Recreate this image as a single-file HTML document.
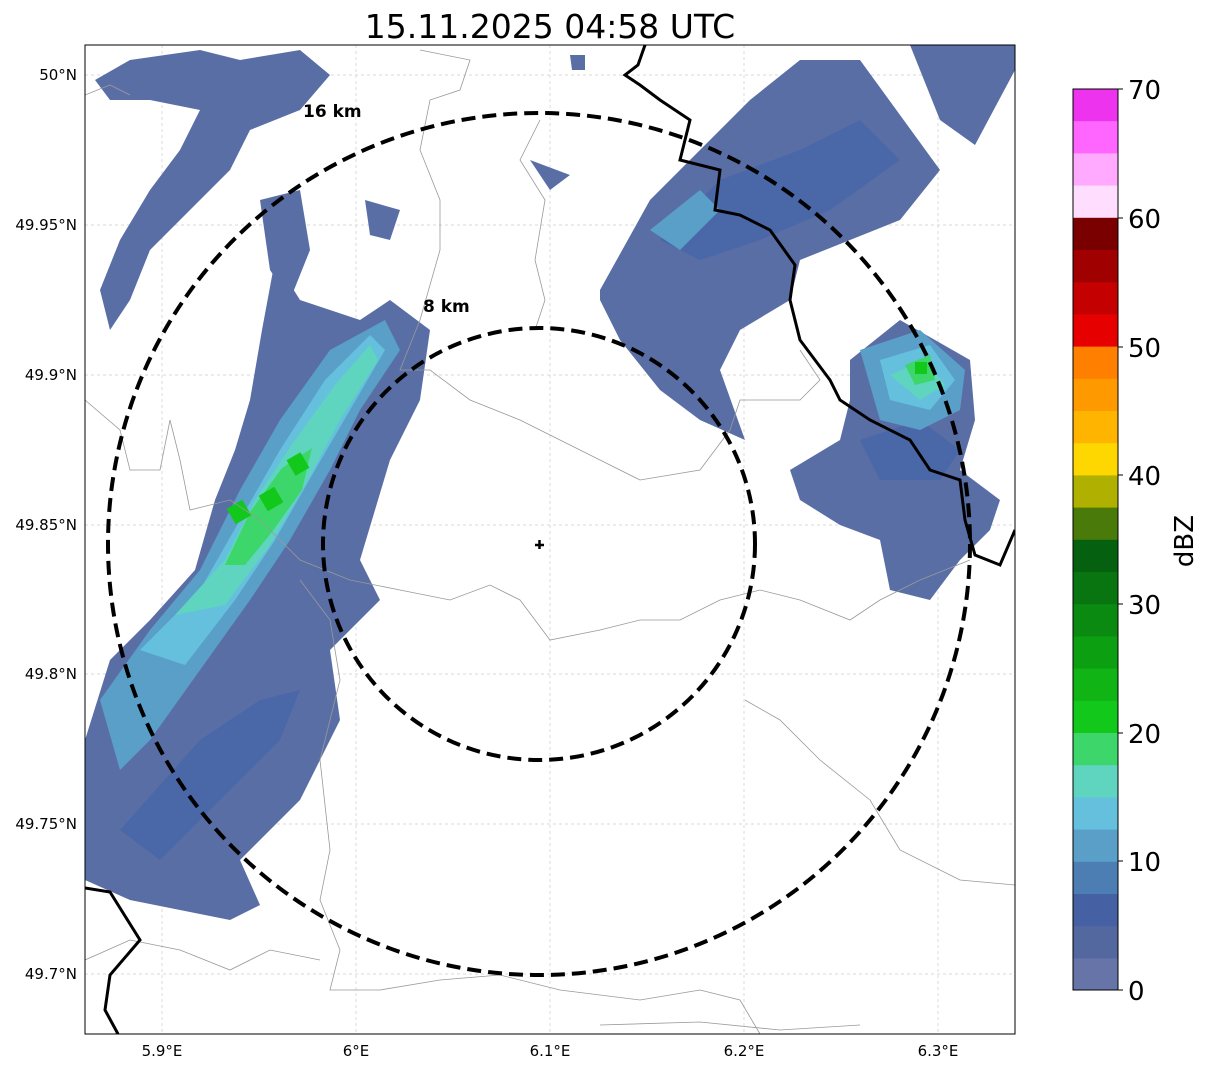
<!DOCTYPE html>
<html><head><meta charset="utf-8"><style>
body{margin:0;background:#fff;}
svg text{font-family:"DejaVu Sans","Liberation Sans",sans-serif;}
</style></head><body>
<svg width="1207" height="1069" xmlns="http://www.w3.org/2000/svg">
<rect width="1207" height="1069" fill="#fff"/>
<text x="550" y="38" font-size="33" text-anchor="middle">15.11.2025 04:58 UTC</text>
<defs><clipPath id="c"><rect x="85" y="45" width="930" height="989"/></clipPath></defs>
<g clip-path="url(#c)">
<g stroke="#ccc" stroke-width="0.7" stroke-dasharray="3 3">
<line x1="162" y1="45" x2="162" y2="1034"/><line x1="356" y1="45" x2="356" y2="1034"/><line x1="550" y1="45" x2="550" y2="1034"/><line x1="744" y1="45" x2="744" y2="1034"/><line x1="938" y1="45" x2="938" y2="1034"/>
<line x1="85" y1="75" x2="1015" y2="75"/><line x1="85" y1="225" x2="1015" y2="225"/><line x1="85" y1="375" x2="1015" y2="375"/><line x1="85" y1="525" x2="1015" y2="525"/><line x1="85" y1="674" x2="1015" y2="674"/><line x1="85" y1="824" x2="1015" y2="824"/><line x1="85" y1="974" x2="1015" y2="974"/>
</g>
<g fill="#5a6ea6">
<polygon points="85,760 85,880 130,900 180,910 230,920 260,905 240,860 300,800 340,720 330,650 380,600 360,560 390,460 420,400 430,330 390,300 360,320 300,300 275,260 262,330 250,400 235,450 215,500 195,570 150,620 110,660 85,740"/>
<polygon points="95,80 130,60 200,50 240,60 300,50 330,75 300,110 250,130 230,170 190,210 150,250 130,300 110,330 100,290 120,240 150,190 180,150 200,110 150,100 110,100"/>
<polygon points="260,200 300,190 310,250 290,300 270,270"/>
<polygon points="365,200 400,210 390,240 370,235"/>
<polygon points="530,160 570,175 550,190"/>
<polygon points="600,290 650,200 700,150 750,100 800,60 860,60 940,170 900,220 850,240 800,260 790,300 740,330 720,370 745,440 700,420 660,390 620,340 600,300"/>
<polygon points="910,45 1015,45 1015,70 975,145 940,120"/>
<polygon points="850,360 900,320 970,360 975,420 960,470 1000,500 990,530 960,560 930,600 890,590 880,540 840,525 800,500 790,470 840,440 850,400"/>
<polygon points="570,55 585,55 585,70 572,70"/>
</g>
<g fill="#4a67a8">
<polygon points="120,830 200,740 260,700 300,690 280,740 220,800 160,860"/>
<polygon points="660,240 720,180 800,150 860,120 900,160 830,210 760,240 700,260"/>
<polygon points="860,440 920,420 960,450 940,480 880,480"/>
</g>
<g fill="#5a9fc8">
<polygon points="100,700 150,630 200,570 240,490 280,420 330,350 385,320 400,350 360,410 330,470 290,540 250,600 200,670 150,740 120,770"/>
<polygon points="860,350 920,330 965,370 960,410 920,430 880,420"/>
<polygon points="650,230 700,190 720,210 680,250"/>
</g>
<g fill="#65c0dd">
<polygon points="140,650 200,590 240,520 280,450 325,380 370,335 385,350 350,410 315,470 275,540 235,600 185,665"/>
<polygon points="880,360 930,345 955,380 930,410 890,400"/>
</g>
<g fill="#5fd5c0">
<polygon points="175,615 225,560 255,500 295,440 335,385 370,345 378,360 340,420 305,485 270,545 225,605"/>
<polygon points="890,375 925,360 945,385 920,400"/>
</g>
<g fill="#3dd66a">
<polygon points="225,565 250,512 282,468 312,448 302,490 272,532 245,565"/>
<polygon points="905,365 930,355 935,380 915,385"/>
</g>
<g fill="#12c81a">
<rect x="262" y="490" width="18" height="18" transform="rotate(-30 271 499)"/>
<rect x="290" y="455" width="16" height="18" transform="rotate(-30 298 464)"/>
<rect x="230" y="503" width="18" height="18" transform="rotate(-30 239 512)"/>
<rect x="915" y="362" width="12" height="12"/>
</g>
<g fill="none" stroke="#999" stroke-width="0.8">
<path d="M85,400 L120,430 L130,470 L160,470 L170,420 L180,460 L190,510 L230,500 L260,520 L300,560 L350,580 L400,590 L450,600 L490,585 L520,600 L550,640 L600,630 L640,620 L680,620 L720,600 L760,590 L800,600 L850,620 L880,600 L920,580 L970,560"/>
<path d="M300,580 L330,620 L340,680 L320,760 L330,850 L320,900 L340,950 L330,990 L380,990 L440,980 L500,975 L560,990 L640,1000 L700,990 L740,1000 L760,1034"/>
<path d="M85,960 L130,940 L180,950 L230,970 L270,950 L320,960"/>
<path d="M420,50 L470,60 L460,90 L430,100 L420,150 L440,200 L440,250 L420,320 L400,370 L430,370 L470,400 L520,420 L560,440 L600,460 L640,480 L700,470 L730,430 L740,400 L800,400 L820,380 L800,350"/>
<path d="M85,95 L110,85 L130,95"/>
<path d="M540,120 L520,160 L545,200 L535,260 L545,300 L535,330"/>
<path d="M745,700 L780,720 L820,760 L870,800 L900,850 L960,880 L1015,885"/>
<path d="M600,1025 L700,1022 L780,1030 L860,1025"/>
</g>
<g fill="none" stroke="#000" stroke-width="3">
<path d="M645,45 L638,65 L625,75 L640,85 L660,100 L690,120 L680,160 L720,170 L715,210 L740,215 L770,230 L795,265 L790,300 L800,340 L830,380 L840,400 L870,420 L910,440 L930,470 L960,480 L965,520 L975,555 L1000,565 L1015,530"/>
<path d="M85,888 L110,892 L140,940 L110,975 L105,1010 L118,1034"/>
</g>
<g fill="none" stroke="#000" stroke-width="4" stroke-dasharray="14 7">
<circle cx="539" cy="544" r="216"/>
<circle cx="539" cy="544" r="431"/>
</g>
<path d="M535,545 h9 M539.5,540 v9" stroke="#000" stroke-width="2.5"/>
<text x="303" y="117" font-size="17" font-weight="bold">16 km</text>
<text x="423" y="312" font-size="17" font-weight="bold">8 km</text>
</g>
<rect x="85" y="45" width="930" height="989" fill="none" stroke="#000" stroke-width="1"/>
<g font-size="15" text-anchor="middle">
<text x="162" y="1056">5.9°E</text><text x="356" y="1056">6°E</text><text x="550" y="1056">6.1°E</text><text x="744" y="1056">6.2°E</text><text x="938" y="1056">6.3°E</text>
</g>
<g font-size="15" text-anchor="end">
<text x="77" y="80">50°N</text><text x="77" y="230">49.95°N</text><text x="77" y="380">49.9°N</text><text x="77" y="530">49.85°N</text><text x="77" y="679">49.8°N</text><text x="77" y="829">49.75°N</text><text x="77" y="979">49.7°N</text>
</g>
<g>
<rect x="1073" y="89.0" width="45" height="32.6" fill="#ee33ee"/>
<rect x="1073" y="121.2" width="45" height="32.6" fill="#ff66ff"/>
<rect x="1073" y="153.4" width="45" height="32.6" fill="#ffaaff"/>
<rect x="1073" y="185.6" width="45" height="32.6" fill="#ffddff"/>
<rect x="1073" y="217.8" width="45" height="32.6" fill="#7a0000"/>
<rect x="1073" y="250.0" width="45" height="32.6" fill="#a00000"/>
<rect x="1073" y="282.2" width="45" height="32.6" fill="#c40000"/>
<rect x="1073" y="314.4" width="45" height="32.6" fill="#e60000"/>
<rect x="1073" y="346.6" width="45" height="32.6" fill="#ff7f00"/>
<rect x="1073" y="378.8" width="45" height="32.6" fill="#ff9900"/>
<rect x="1073" y="411.0" width="45" height="32.6" fill="#ffb400"/>
<rect x="1073" y="443.2" width="45" height="32.6" fill="#ffd700"/>
<rect x="1073" y="475.4" width="45" height="32.6" fill="#b0b000"/>
<rect x="1073" y="507.6" width="45" height="32.6" fill="#4a7a0a"/>
<rect x="1073" y="539.8" width="45" height="32.6" fill="#056010"/>
<rect x="1073" y="572.0" width="45" height="32.6" fill="#097510"/>
<rect x="1073" y="604.2" width="45" height="32.6" fill="#0a8a10"/>
<rect x="1073" y="636.4" width="45" height="32.6" fill="#0d9f12"/>
<rect x="1073" y="668.6" width="45" height="32.6" fill="#10b515"/>
<rect x="1073" y="700.8" width="45" height="32.6" fill="#12c81a"/>
<rect x="1073" y="733.0" width="45" height="32.6" fill="#3dd66a"/>
<rect x="1073" y="765.2" width="45" height="32.6" fill="#5fd5c0"/>
<rect x="1073" y="797.4" width="45" height="32.6" fill="#65c0dd"/>
<rect x="1073" y="829.6" width="45" height="32.6" fill="#5a9fc8"/>
<rect x="1073" y="861.8" width="45" height="32.6" fill="#4d7eb3"/>
<rect x="1073" y="894.0" width="45" height="32.6" fill="#4560a3"/>
<rect x="1073" y="926.2" width="45" height="32.6" fill="#5468a0"/>
<rect x="1073" y="958.4" width="45" height="31.6" fill="#6674a8"/>
<rect x="1073" y="89" width="45" height="901" fill="none" stroke="#000" stroke-width="1"/>
</g>
<g font-size="26">
<text x="1128" y="99">70</text><text x="1128" y="228">60</text><text x="1128" y="357">50</text><text x="1128" y="485">40</text><text x="1128" y="614">30</text><text x="1128" y="743">20</text><text x="1128" y="871">10</text><text x="1128" y="1000">0</text>
</g>
<g stroke="#000" stroke-width="1">
<line x1="1118" y1="89" x2="1123" y2="89"/><line x1="1118" y1="218" x2="1123" y2="218"/><line x1="1118" y1="347" x2="1123" y2="347"/><line x1="1118" y1="475" x2="1123" y2="475"/><line x1="1118" y1="604" x2="1123" y2="604"/><line x1="1118" y1="733" x2="1123" y2="733"/><line x1="1118" y1="861" x2="1123" y2="861"/><line x1="1118" y1="990" x2="1123" y2="990"/>
</g>
<text x="1193" y="541" font-size="26" text-anchor="middle" transform="rotate(-90 1193 541)">dBZ</text>
</svg>
</body></html>
